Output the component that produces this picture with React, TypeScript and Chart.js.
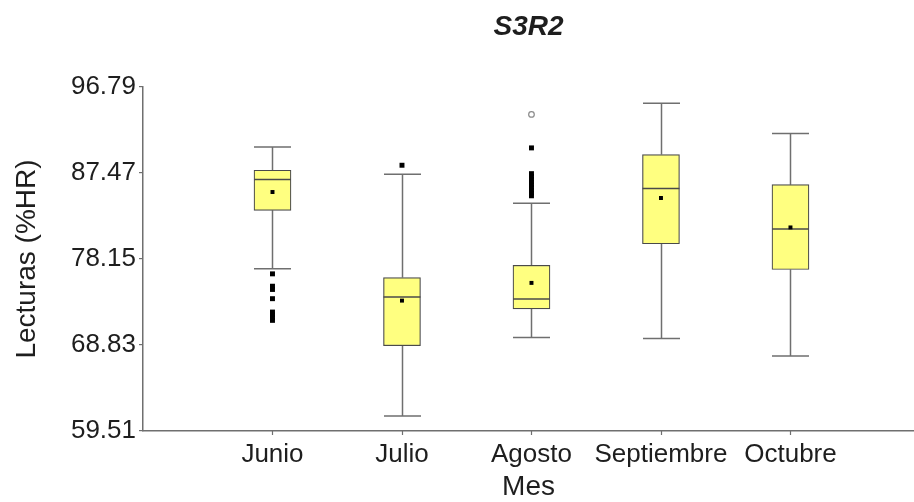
import React, { useEffect, useRef } from 'react';
import { Chart, registerables } from 'chart.js';

Chart.register(...registerables);

const categories = ['Junio', 'Julio', 'Agosto', 'Septiembre', 'Octubre'];
const whiskerLow = [77.08, 61.14, 69.65, 69.54, 67.63];
const q1 = [83.42, 68.75, 72.74, 79.8, 77.01];
const median = [86.76, 74.04, 73.82, 85.78, 81.39];
const q3 = [87.77, 76.14, 77.47, 89.47, 86.21];
const whiskerHigh = [90.3, 87.33, 84.18, 95.02, 91.76];
const means = [85.41, 73.64, 75.56, 84.76, 81.57];
const outliers: number[][] = [
  [76.54, 75.2, 74.85, 73.85, 72.4, 72.1, 71.8, 71.5],
  [88.31],
  [90.19, 87.4, 87.1, 86.8, 86.5, 86.2, 85.9, 85.6, 85.3, 85.0],
  [],
  [],
];
const extremes: number[][] = [[], [], [93.82], [], []];
const yTicks = [59.51, 68.83, 78.15, 87.47, 96.79];

const FONT = "'Liberation Sans', Arial, sans-serif";
const TEXT = '#1e1e1e';
const AXIS = '#6f6f6f';

const boxPlugin = {
  id: 'boxWhiskers',
  beforeDatasetsDraw(chart: any) {
    const { ctx, scales } = chart;
    const x = scales.x;
    const y = scales.y;
    const meta = chart.getDatasetMeta(0);
    ctx.save();
    ctx.strokeStyle = AXIS;
    ctx.lineWidth = 1.5;
    categories.forEach((_, i) => {
      const px = Math.round(x.getPixelForValue(i + 1)) + 0.5;
      const half = meta.data[i] ? meta.data[i].width / 2 : 18;
      const yLo = y.getPixelForValue(whiskerLow[i]);
      const yHi = y.getPixelForValue(whiskerHigh[i]);
      const yQ1 = y.getPixelForValue(q1[i]);
      const yQ3 = y.getPixelForValue(q3[i]);
      ctx.beginPath();
      ctx.moveTo(px, yHi);
      ctx.lineTo(px, yQ3);
      ctx.moveTo(px, yQ1);
      ctx.lineTo(px, yLo);
      ctx.moveTo(px - half, yHi);
      ctx.lineTo(px + half, yHi);
      ctx.moveTo(px - half, yLo);
      ctx.lineTo(px + half, yLo);
      ctx.stroke();
    });
    ctx.restore();
  },
  afterDatasetDraw(chart: any, args: any) {
    if (args.index !== 0) return;
    const { ctx, scales } = chart;
    const x = scales.x;
    const y = scales.y;
    const meta = chart.getDatasetMeta(0);
    ctx.save();
    ctx.strokeStyle = '#4a4a4a';
    ctx.lineWidth = 1.5;
    categories.forEach((_, i) => {
      const px = x.getPixelForValue(i + 1);
      const half = meta.data[i] ? meta.data[i].width / 2 : 18;
      const ym = y.getPixelForValue(median[i]);
      ctx.beginPath();
      ctx.moveTo(px - half, ym);
      ctx.lineTo(px + half, ym);
      ctx.stroke();
    });
    ctx.restore();
  },
  afterDraw(chart: any) {
    const { ctx, scales, chartArea } = chart;
    const x = scales.x;
    ctx.save();
    ctx.strokeStyle = AXIS;
    ctx.lineWidth = 1.2;
    ctx.beginPath();
    categories.forEach((_, i) => {
      const px = Math.round(x.getPixelForValue(i + 1)) + 0.5;
      ctx.moveTo(px, chartArea.bottom);
      ctx.lineTo(px, chartArea.bottom + 4);
    });
    ctx.stroke();
    ctx.restore();
  },
};

export default function App() {
  const ref = useRef<HTMLCanvasElement | null>(null);

  useEffect(() => {
    if (!ref.current) return;
    const outlierPts: { x: number; y: number }[] = [];
    outliers.forEach((arr, i) => arr.forEach((v) => outlierPts.push({ x: i + 1, y: v })));
    const extremePts: { x: number; y: number }[] = [];
    extremes.forEach((arr, i) => arr.forEach((v) => extremePts.push({ x: i + 1, y: v })));

    const chart = new Chart(ref.current, {
      type: 'bar',
      data: {
        datasets: [
          {
            type: 'bar',
            label: 'box',
            data: categories.map((_, i) => ({ x: i + 1, y: [q1[i], q3[i]] })) as any,
            backgroundColor: '#ffff80',
            borderColor: '#4a4a4a',
            borderWidth: 1.2,
            borderSkipped: false,
            barThickness: 37,
            order: 3,
          } as any,
          {
            type: 'scatter',
            label: 'means',
            data: categories.map((_, i) => ({ x: i + 1, y: means[i] })),
            pointStyle: 'rect',
            pointRadius: 2.8,
            backgroundColor: '#000',
            borderColor: '#000',
            borderWidth: 0,
            order: 1,
          } as any,
          {
            type: 'scatter',
            label: 'outliers',
            data: outlierPts,
            pointStyle: 'rect',
            pointRadius: 3.5,
            backgroundColor: '#000',
            borderColor: '#000',
            borderWidth: 0,
            order: 2,
          } as any,
          {
            type: 'scatter',
            label: 'extremes',
            data: extremePts,
            pointStyle: 'circle',
            pointRadius: 2.8,
            backgroundColor: '#fff',
            borderColor: '#8a8a8a',
            borderWidth: 1.2,
            order: 2,
          } as any,
        ],
      },
      options: {
        responsive: false,
        animation: false,
        devicePixelRatio: 1,
        layout: { padding: 0, autoPadding: false },
        plugins: {
          legend: { display: false },
          tooltip: { enabled: false },
          title: {
            display: true,
            fullSize: false,
            text: 'S3R2',
            color: TEXT,
            font: { family: FONT, size: 28, weight: 'bold', style: 'italic', lineHeight: 1.2 },
            padding: { top: 10.2, bottom: 43.2 },
          },
        },
        scales: {
          x: {
            type: 'linear',
            min: 0,
            max: 5.954,
            offset: false,
            afterFit(scale: any) {
              scale.height = 71;
            },
            afterBuildTicks(scale: any) {
              scale.ticks = categories.map((_, i) => ({ value: i + 1 }));
            },
            ticks: {
              autoSkip: false,
              maxRotation: 0,
              padding: 8,
              color: TEXT,
              font: { family: FONT, size: 26 },
              callback: (v: any) => categories[Number(v) - 1] ?? '',
            },
            grid: { display: false, drawTicks: false, tickLength: 0 },
            border: { display: true, color: AXIS, width: 1.5 },
            title: {
              display: true,
              text: 'Mes',
              color: TEXT,
              font: { family: FONT, size: 28, lineHeight: 1.2 },
              padding: { top: 0, bottom: -2 },
            },
          },
          y: {
            type: 'linear',
            min: 59.51,
            max: 96.79,
            afterFit(scale: any) {
              scale.width = 143;
            },
            afterBuildTicks(scale: any) {
              scale.ticks = yTicks.map((v) => ({ value: v }));
            },
            ticks: {
              padding: 3,
              color: TEXT,
              font: { family: FONT, size: 26 },
              callback: (v: any) => Number(v).toFixed(2),
            },
            grid: {
              display: true,
              drawOnChartArea: false,
              drawTicks: true,
              tickLength: 4,
              color: AXIS,
              lineWidth: 1.2,
            },
            border: { display: true, color: AXIS, width: 1.5 },
            title: {
              display: true,
              text: 'Lecturas (%HR)',
              color: TEXT,
              font: { family: FONT, size: 28, lineHeight: 1.2 },
              padding: { top: 10.2, bottom: 0 },
            },
          },
        },
      } as any,
      plugins: [boxPlugin],
    });
    return () => chart.destroy();
  }, []);

  return (
    <div style={{ position: 'absolute', left: 0, top: 0, width: 914, height: 502, background: '#fff' }}>
      <canvas ref={ref} width={914} height={502} style={{ display: 'block' }} />
    </div>
  );
}
